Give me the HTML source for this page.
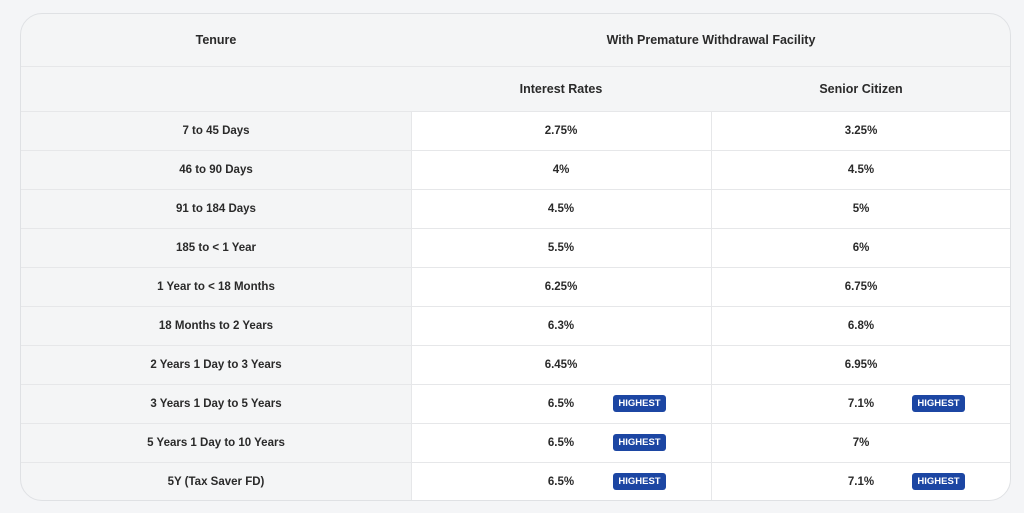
<!DOCTYPE html>
<html><head><style>
body{margin:0;width:1024px;height:513px;background:#f4f5f7;font-family:"Liberation Sans",sans-serif;position:relative;overflow:hidden}
.card{position:absolute;left:20px;top:13px;width:991px;height:488px;border:1px solid #dfe1e4;border-radius:22px;overflow:hidden;background:#f4f5f6;box-sizing:border-box}
.c{position:absolute;display:flex;align-items:center;justify-content:center;font-weight:bold;color:#2a2a2a;font-size:11.5px;box-sizing:border-box}
.w{background:#fff}
.hl{position:absolute;left:0;width:990px;height:1px;background:#e6e7e9}
.vl{position:absolute;width:1px;background:#e6e7e9}
.b{position:absolute;width:53px;height:17px;background:#1c46a3;border-radius:3px;color:#fff;font-size:9.5px;font-weight:bold;display:flex;align-items:center;justify-content:center}
</style></head><body>
<div class="card">
<div class="c" style="left:0;top:0;width:390px;height:52px;font-size:12.5px">Tenure</div>
<div class="c" style="left:390px;top:0;width:600px;height:52px;font-size:12.5px">With Premature Withdrawal Facility</div>
<div class="c" style="left:390px;top:52px;width:300px;height:45px;font-size:12.5px">Interest Rates</div>
<div class="c" style="left:690px;top:52px;width:300px;height:45px;font-size:12.5px">Senior Citizen</div>
<div class="hl" style="top:52px"></div>
<div class="w" style="position:absolute;left:390px;top:97px;width:600px;height:390px"></div>
<div id="rows"></div>
</div>
<script>
var d=[["7 to 45 Days","2.75%","3.25%",0,0],["46 to 90 Days","4%","4.5%",0,0],["91 to 184 Days","4.5%","5%",0,0],["185 to < 1 Year","5.5%","6%",0,0],["1 Year to < 18 Months","6.25%","6.75%",0,0],["18 Months to 2 Years","6.3%","6.8%",0,0],["2 Years 1 Day to 3 Years","6.45%","6.95%",0,0],["3 Years 1 Day to 5 Years","6.5%","7.1%",1,1],["5 Years 1 Day to 10 Years","6.5%","7%",1,0],["5Y (Tax Saver FD)","6.5%","7.1%",1,1]];
var h='<div class="hl" style="top:97px"></div><div class="vl" style="left:390px;top:97px;height:390px"></div><div class="vl" style="left:690px;top:97px;height:390px"></div>';
d.forEach(function(r,i){var t=97+i*39;
h+='<div class="c" style="left:0;top:'+t+'px;width:390px;height:39px">'+r[0].replace('<','&lt;')+'</div>';
h+='<div class="c" style="left:390px;top:'+t+'px;width:300px;height:39px">'+r[1]+'</div>';
h+='<div class="c" style="left:690px;top:'+t+'px;width:300px;height:39px">'+r[2]+'</div>';
if(r[3])h+='<div class="b" style="left:592px;top:'+(t+11)+'px">HIGHEST</div>';
if(r[4])h+='<div class="b" style="left:891px;top:'+(t+11)+'px">HIGHEST</div>';
if(i<9)h+='<div class="hl" style="top:'+(t+39)+'px"></div>';});
document.getElementById('rows').innerHTML=h;
</script>
</body></html>
